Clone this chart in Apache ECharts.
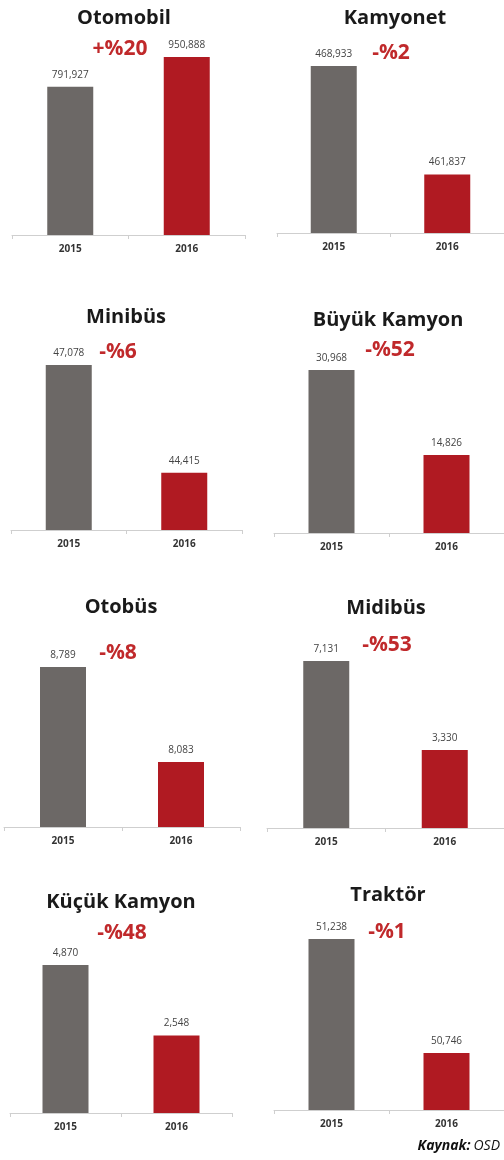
<!DOCTYPE html>
<html lang="tr">
<head>
    <meta charset="UTF-8">
    <title>2015 - 2016 Üretim</title>
    <script src="https://cdn.jsdelivr.net/npm/echarts@6/dist/echarts.min.js"></script>
    <style>
        html, body { margin: 0; padding: 0; background: #fff; }
        #main { width: 504px; height: 1160px; }
    </style>
</head>
<body>
<div id="main"></div>
<script>
    // veriler
    var panels = ['Otomobil', 'Kamyonet', 'Minibüs', 'Büyük Kamyon', 'Otobüs', 'Midibüs', 'Küçük Kamyon', 'Traktör'];
    var years = ['2015', '2016'];
    var v2015 = [791927, 468933, 47078, 30968, 8789, 7131, 4870, 51238];
    var v2016 = [950888, 461837, 44415, 14826, 8083, 3330, 2548, 50746];
    var changes = ['+%20', '-%2', '-%6', '-%52', '-%8', '-%53', '-%48', '-%1'];
    // eksen alt sınırı (orijinal grafikte bazı paneller sıfırdan başlamıyor)
    var axisMin = [0, 458000, 43000, 0, 7600, 0, 0, 50500];

    // yerleşim: grid sol, genişlik, üst, eksen çizgisi y
    var grids = [
        [12, 233, 57, 235], [277, 231, 66, 233],
        [11, 231, 365, 530], [274, 232, 370, 533],
        [4, 236, 667, 827], [267, 240, 661, 828],
        [10, 222, 965, 1113], [274, 232, 939, 1110]
    ];
    var titlePos = [[124, 18], [395, 18], [126, 317], [388, 320], [121, 607], [386, 608], [121, 902], [388, 895]];
    var changePos = [[120, 49], [391, 53], [118, 352], [390, 350], [118, 653], [387, 645], [122, 933], [387, 932]];

    var GRAY = '#6c6866', RED = '#b01a22';
    var H = 1160;

    var myChart = echarts.init(document.getElementById('main'));
    var option = {
        backgroundColor: '#fff',
        animation: false,
        grid: [], xAxis: [], yAxis: [], series: [],
        graphic: []
    };

    panels.forEach(function (name, i) {
        var g = grids[i];
        option.grid.push({left: g[0], width: g[1], top: g[2], bottom: H - g[3]});
        option.xAxis.push({
            type: 'category', gridIndex: i, data: years,
            axisLine: {lineStyle: {color: '#cfcfcf', width: 1}},
            axisTick: {show: true, length: 4, lineStyle: {color: '#cfcfcf'}},
            axisLabel: {color: '#333', fontSize: 10, fontWeight: 'bold', margin: 9, fontFamily: 'Open Sans'}
        });
        option.yAxis.push({
            type: 'value', gridIndex: i, show: false,
            min: axisMin[i], max: 'dataMax', splitLine: {show: false}
        });
        option.series.push({
            type: 'bar', xAxisIndex: i, yAxisIndex: i, barWidth: 46,
            data: [v2015[i], v2016[i]],
            itemStyle: {
                color: function (p) { return p.dataIndex === 0 ? GRAY : RED; }
            },
            label: {
                show: true, position: 'top', distance: 7,
                color: '#444', fontSize: 10, fontFamily: 'Open Sans',
                formatter: function (p) { return p.value.toLocaleString('en-US'); }
            }
        });
        option.graphic.push({
            type: 'text', x: titlePos[i][0], y: titlePos[i][1],
            style: {
                text: name, fill: '#1a1a1a', font: 'bold 20px "Open Sans"',
                align: 'center', verticalAlign: 'middle'
            }
        });
        option.graphic.push({
            type: 'text', x: changePos[i][0], y: changePos[i][1],
            style: {
                text: changes[i], fill: '#c0292b', font: 'bold 21px "Open Sans"',
                align: 'center', verticalAlign: 'middle'
            }
        });
    });

    option.graphic.push({
        type: 'text', right: 4, top: 1139,
        style: {
            text: '{b|Kaynak:}{n|OSD}',
            rich: {
                b: {fontFamily: 'Open Sans', fontSize: 14, fontStyle: 'italic', fontWeight: 'bold', fill: '#111', padding: [0, 3, 0, 0]},
                n: {fontFamily: 'Open Sans', fontSize: 14, fontStyle: 'italic', fill: '#111'}
            }
        }
    });

    myChart.setOption(option);
</script>
</body>
</html>
